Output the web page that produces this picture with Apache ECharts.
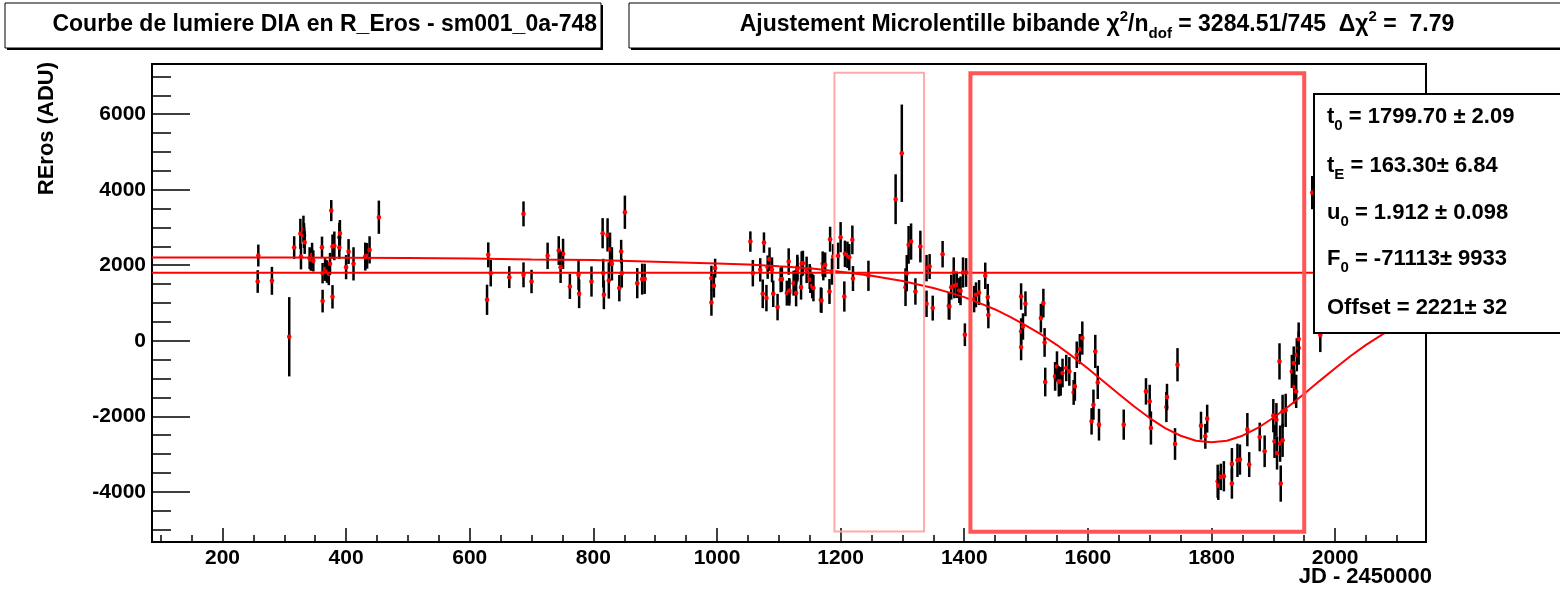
<html>
<head>
<meta charset="utf-8">
<script src="https://cdn.jsdelivr.net/npm/echarts@6/dist/echarts.min.js"></script>
<style>
  html, body { margin: 0; padding: 0; background: #fff; }
  #main { width: 1560px; height: 592px; }
</style>
</head>
<body>
<div id="main"></div>
<script>
// points of the light curve (JD - 2450000, flux in ADU, error)
var jd = [258, 257, 280, 308, 316, 326, 327, 331, 332, 333, 341, 343, 345, 347, 361, 362, 362, 366, 369, 372,
  374, 376, 378, 378, 381, 389, 390, 389, 400, 404, 412, 431, 434, 438, 453,
  628, 630, 634, 664, 687, 687, 700, 726, 744, 751, 747, 762, 776, 777, 797,
  815, 816, 817, 823, 825, 827, 830, 842, 845, 846, 851, 871, 879, 883,
  991, 991, 995, 997, 1054, 1058, 1070, 1074, 1076, 1080, 1082, 1085, 1089, 1091, 1098, 1103,
  1105, 1113, 1116, 1117, 1117, 1124, 1127, 1128, 1130, 1130, 1136, 1137, 1139, 1145, 1150, 1151,
  1154, 1156, 1168, 1169, 1171, 1172, 1175, 1182, 1183, 1186, 1188, 1196, 1200, 1206, 1207, 1211,
  1214, 1219, 1220, 1245, 1289, 1299, 1305, 1307, 1310, 1314, 1321, 1329, 1339, 1339, 1344, 1349,
  1365, 1375, 1376, 1379, 1383, 1384, 1388, 1392, 1394, 1398, 1401, 1403, 1416, 1419, 1424, 1434,
  1438, 1439, 1492, 1492, 1492, 1495, 1499, 1524, 1528, 1530, 1531, 1547, 1550, 1553, 1556, 1559,
  1565, 1570, 1577, 1579, 1582, 1587, 1591, 1606, 1609, 1612, 1616, 1618, 1658, 1694, 1700, 1702,
  1727, 1728, 1741, 1745, 1783, 1790, 1793, 1810, 1811, 1815, 1820, 1833, 1833, 1842, 1846, 1858,
  1861, 1878, 1886, 1900, 1902, 1905, 1906, 1910, 1911, 1912, 1915, 1915, 1920, 1930, 1933, 1934,
  1937, 1938, 1941, 1941, 1963, 1976];
var flux = [2257, 1569, 1587, 106, 2468, 2831, 2230, 2963, 2786, 2610, 2187, 2143, 2275, 2116, 2478, 1790, 1050, 1896, 1834, 1772,
  2037, 3447, 2495, 1164, 2513, 2743, 2849, 2468, 1949, 2363, 2037, 2230, 2249, 2407, 3272,
  1085, 2275, 1790, 1685, 3360, 1746, 1569, 2249, 2389, 2302, 1949, 1437, 1746, 1243, 1569,
  2849, 1790, 1217, 2804, 1596, 2425, 2037, 1394, 2363, 1790, 3404, 1526, 1632, 1640,
  1013, 1658, 1455, 1923, 2627, 1790, 1878, 1243, 2600, 1130, 1949, 2161, 1878, 1243, 891, 1614,
  1632, 1262, 2098, 1278, 1331, 1526, 1542, 1262, 1949, 1896, 1420, 2037, 2055, 1878, 1701, 1614,
  1455, 1394, 1085, 1066, 2037, 1949, 2010, 1305, 2690, 1834, 2230, 2249, 2743, 1172, 2302, 2275,
  2214, 2672, 1648, 1720, 3749, 4966, 1420, 1790, 2540, 2627, 1305, 2495, 1923, 979, 1966, 865,
  2293, 926, 907, 1420, 1808, 1455, 1481, 1331, 1323, 1808, 159, 1808, 1103, 1217, 1278, 1720,
  1156, 680, 1172, 246, -167, 378, 979, 600, 997, -45, -1093, -944, -680, -1076, -1076, -855,
  -722, -812, -1368, -1209, -370, -220, 71, -2135, -1693, -283, -1103, -2222, -2222, -1341, -1605, -2310,
  -1754, -1490, -2734, -635, -2249, -2531, -2063, -3722, -3836, -3606, -3589, -3262, -3783, -3167, -3148, -2354,
  -3280, -2548, -2928, -1984, -2664, -2090, -2971, -547, -2725, -3783, -2637, -1870, -1843, -812, -590, -1225,
  -1341, -370, -194, 45, 3923, 150];
var err = [290, 300, 370, 1050, 300, 400, 340, 350, 330, 310, 290, 290, 320, 280, 280, 270, 300, 310, 300, 300,
  290, 280, 320, 310, 380, 380, 350, 300, 320, 330, 440, 370, 340, 360, 440,
  400, 330, 350, 290, 330, 330, 310, 350, 380, 400, 420, 330, 400, 380, 400,
  400, 380, 380, 440, 480, 440, 440, 350, 310, 380, 440, 400, 410, 400,
  350, 330, 310, 250, 270, 350, 310, 380, 270, 350, 310, 310, 330, 350, 350, 330,
  330, 330, 350, 350, 330, 330, 330, 350, 330, 330, 330, 330, 330, 350, 330, 350,
  330, 350, 330, 330, 330, 350, 330, 330, 330, 350, 330, 350, 400, 400, 350, 350,
  350, 380, 330, 400, 660, 1290, 500, 480, 500, 480, 350, 420, 350, 350, 330, 330,
  350, 360, 350, 330, 400, 330, 350, 330, 380, 400, 300, 380, 350, 330, 330, 350,
  350, 350, 350, 350, 350, 350, 330, 380, 380, 380, 380, 380, 400, 400, 380, 380,
  350, 380, 330, 380, 350, 400, 440, 350, 400, 440, 440, 420, 400, 350, 440, 440,
  400, 350, 420, 440, 370, 330, 370, 440, 380, 350, 400, 420, 400, 440, 400, 440,
  330, 380, 420, 440, 440, 440, 440, 480, 480, 480, 440, 440, 440, 440, 440, 440,
  440, 440, 440, 440, 440, 450];

// fitted microlensing curve
var fitJd = [86, 200, 300, 400, 500, 600, 700, 800, 900, 1000, 1050, 1100, 1150, 1200, 1250, 1300, 1350,
  1375, 1400, 1425, 1450, 1475, 1500, 1525, 1550, 1575, 1600, 1625, 1650, 1675, 1700, 1725, 1750, 1775,
  1800, 1825, 1850, 1875, 1900, 1925, 1950, 1975, 2000, 2025, 2050, 2100, 2147];
var fitFlux = [2208, 2205, 2203, 2198, 2191, 2181, 2155, 2140, 2095, 2045, 2020, 1971, 1923, 1829, 1723, 1581, 1395,
  1281, 1155, 998, 829, 628, 401, 160, -114, -413, -734, -1070, -1408, -1742, -2047, -2313, -2516, -2649,
  -2690, -2648, -2515, -2310, -2040, -1735, -1401, -1062, -727, -405, -109, 414, 810];

// other band baseline
var baseJd = [86, 2147];
var baseFlux = [1800, 1800];

// selection windows [jdMin, jdMax, fluxMin, fluxMax]
var pinkBox = [1190, 1335, -5050, 7100];
var redBox = [1410, 1950, -5060, 7085];

// ticks
var xMajor = [200, 400, 600, 800, 1000, 1200, 1400, 1600, 1800, 2000];
var xMinor = [100, 150, 250, 300, 350, 450, 500, 550, 650, 700, 750, 850, 900, 950, 1050, 1100, 1150,
  1250, 1300, 1350, 1450, 1500, 1550, 1650, 1700, 1750, 1850, 1900, 1950, 2050, 2100];
var yMajor = [-4000, -2000, 0, 2000, 4000, 6000];
var yMinor = [-5000, -4500, -3500, -3000, -2500, -1500, -1000, -500, 500, 1000, 1500, 2500, 3000, 3500,
  4500, 5000, 5500, 6500, 7000];

var statLines = [
  '{m|t}{s|0}{m| = 1799.70 ± 2.09}',
  '{m|t}{s|E}{m| = 163.30± 6.84}',
  '{m|u}{s|0}{m| = 1.912 ± 0.098}',
  '{m|F}{s|0}{m| = -71113± 9933}',
  '{m|Offset = 2221± 32}'
];

var FONT = '"Liberation Sans", Arial, Helvetica, sans-serif';

var myChart = echarts.init(document.getElementById('main'));

function boxRenderer(color, width) {
  return function (params, api) {
    var p0 = api.coord([api.value(0), api.value(3)]);
    var p1 = api.coord([api.value(1), api.value(2)]);
    return {
      type: 'rect',
      shape: {x: p0[0], y: p0[1], width: p1[0] - p0[0], height: p1[1] - p0[1]},
      style: {fill: 'none', stroke: color, lineWidth: width}
    };
  };
}

function richStyle(size) {
  return {
    m: {fontFamily: FONT, fontWeight: 'bold', fontSize: size, lineHeight: 32, color: '#000'},
    s: {fontFamily: FONT, fontWeight: 'bold', fontSize: 15, lineHeight: 14, verticalAlign: 'bottom', color: '#000'},
    p: {fontFamily: FONT, fontWeight: 'bold', fontSize: 15, lineHeight: 14, verticalAlign: 'top', color: '#000'}
  };
}

var graphics = [
  // title boxes
  {type: 'rect', z: 100, shape: {x: 7, y: 5, width: 596, height: 45}, style: {fill: '#000'}},
  {type: 'rect', z: 101, shape: {x: 5, y: 3, width: 596, height: 45}, style: {fill: '#fff', stroke: '#000', lineWidth: 1}},
  {type: 'text', z: 102, x: 597, y: 25, style: {text: 'Courbe de lumiere DIA en R_Eros - sm001_0a-748',
    font: 'bold 23px ' + FONT, fill: '#000', align: 'right', verticalAlign: 'middle', textAlign: 'right', textVerticalAlign: 'middle'}},
  {type: 'rect', z: 100, shape: {x: 631, y: 5, width: 940, height: 45}, style: {fill: '#000'}},
  {type: 'rect', z: 101, shape: {x: 629, y: 3, width: 940, height: 45}, style: {fill: '#fff', stroke: '#000', lineWidth: 1}},
  {type: 'text', z: 102, x: 1097, y: 25, style: {
    text: '{m|Ajustement Microlentille bibande χ}{p|2}{m|/n}{s|dof}{m| = 3284.51/745  Δχ}{p|2}{m| =  7.79}',
    rich: richStyle(23), align: 'center', verticalAlign: 'middle', textAlign: 'center', textVerticalAlign: 'middle'}},
  // stats box
  {type: 'rect', z: 100, shape: {x: 1314, y: 94, width: 260, height: 239}, style: {fill: '#fff', stroke: '#000', lineWidth: 2}},
  // axis titles
  {type: 'text', z: 102, x: 1432, y: 577, style: {text: 'JD - 2450000', font: 'bold 22px ' + FONT, fill: '#000',
    align: 'right', verticalAlign: 'middle', textAlign: 'right', textVerticalAlign: 'middle'}},
  {type: 'text', z: 102, x: 47, y: 62, rotation: Math.PI / 2, style: {text: 'REros (ADU)', font: 'bold 22px ' + FONT,
    fill: '#000', align: 'right', verticalAlign: 'middle', textAlign: 'right', textVerticalAlign: 'middle'}}
];
var statY = [117, 166, 213, 259, 308];
statLines.forEach(function (t, i) {
  graphics.push({type: 'text', z: 102, x: 1327, y: statY[i], style: {text: t, rich: richStyle(22),
    align: 'left', verticalAlign: 'middle', textAlign: 'left', textVerticalAlign: 'middle'}});
});

var labelStyle = {fontFamily: FONT, fontWeight: 'bold', fontSize: 21, color: '#000',
  formatter: function (v) { return String(v); }};

var option = {
  animation: false,
  backgroundColor: '#fff',
  grid: {left: 152, right: 134, top: 64, bottom: 50, show: true, borderColor: '#000', borderWidth: 2, backgroundColor: '#fff'},
  xAxis: [{
    type: 'value', min: 86, max: 2147, position: 'bottom',
    axisLine: {show: true, onZero: false, lineStyle: {color: '#000', width: 2}},
    axisTick: {show: true, inside: true, length: 14, customValues: xMajor, lineStyle: {color: '#000', width: 1.5}},
    axisLabel: Object.assign({show: true, margin: 6, customValues: xMajor}, labelStyle),
    splitLine: {show: false}
  }, {
    type: 'value', min: 86, max: 2147, position: 'bottom',
    axisLine: {show: false, onZero: false},
    axisTick: {show: true, inside: true, length: 7, customValues: xMinor, lineStyle: {color: '#000', width: 1.5}},
    axisLabel: {show: false},
    splitLine: {show: false}
  }],
  yAxis: [{
    type: 'value', min: -5330, max: 7330, position: 'left',
    axisLine: {show: true, onZero: false, lineStyle: {color: '#000', width: 2}},
    axisTick: {show: true, inside: true, length: 38, customValues: yMajor, lineStyle: {color: '#000', width: 1.5}},
    axisLabel: Object.assign({show: true, margin: 6, customValues: yMajor}, labelStyle),
    splitLine: {show: false}
  }, {
    type: 'value', min: -5330, max: 7330, position: 'left',
    axisLine: {show: false, onZero: false},
    axisTick: {show: true, inside: true, length: 19, customValues: yMinor, lineStyle: {color: '#000', width: 1.5}},
    axisLabel: {show: false},
    splitLine: {show: false}
  }],
  series: [
    {
      type: 'custom', name: 'data', xAxisIndex: 0, yAxisIndex: 0, z: 2,
      data: jd.map(function (x, i) { return [x, flux[i], err[i]]; }),
      renderItem: function (params, api) {
        var x = api.value(0), y = api.value(1), e = api.value(2);
        var top = api.coord([x, y + e]);
        var bot = api.coord([x, y - e]);
        var c = api.coord([x, y]);
        return {
          type: 'group', children: [
            {type: 'line', shape: {x1: top[0], y1: top[1], x2: bot[0], y2: bot[1]}, style: {stroke: '#000', lineWidth: 2.5}},
            {type: 'circle', shape: {cx: c[0], cy: c[1], r: 2.3}, style: {fill: '#ff0000'}}
          ]
        };
      }
    },
    {
      type: 'line', name: 'fit', z: 3, showSymbol: false, symbol: 'none',
      data: fitJd.map(function (x, i) { return [x, fitFlux[i]]; }),
      lineStyle: {color: '#ff0000', width: 2}
    },
    {
      type: 'line', name: 'base', z: 3, showSymbol: false, symbol: 'none',
      data: baseJd.map(function (x, i) { return [x, baseFlux[i]]; }),
      lineStyle: {color: '#ff0000', width: 2}
    },
    {type: 'custom', z: 4, data: [pinkBox], renderItem: boxRenderer('#ffaaaa', 2)},
    {type: 'custom', z: 4, data: [redBox], renderItem: boxRenderer('#ff5555', 4)}
  ],
  graphic: graphics
};

myChart.setOption(option);
</script>
</body>
</html>
